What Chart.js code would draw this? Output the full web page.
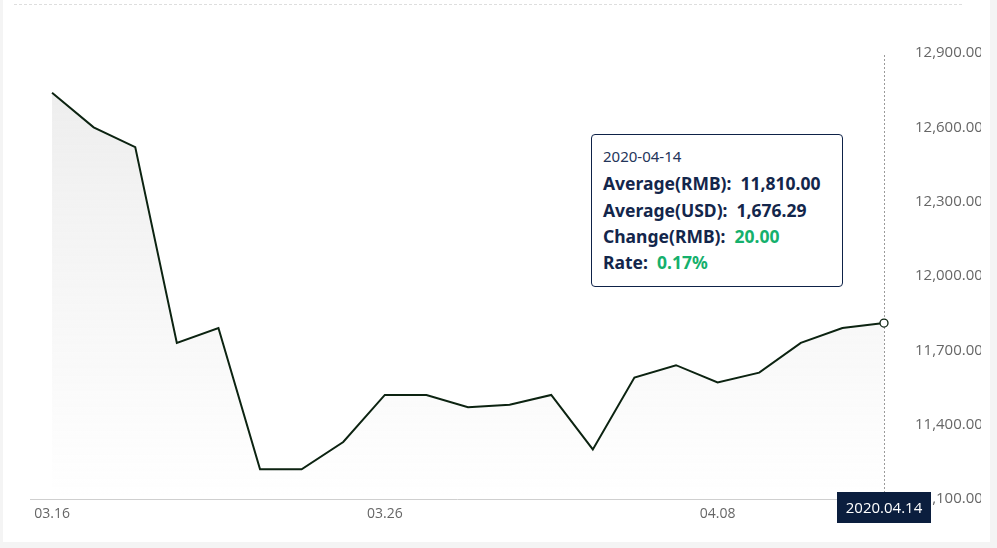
<!DOCTYPE html>
<html><head><meta charset="utf-8">
<script src="https://cdn.jsdelivr.net/npm/chart.js@4"></script>
<style>
html,body{margin:0;padding:0;background:#f4f4f4;width:997px;height:548px;overflow:hidden;}
#card{position:absolute;left:3px;top:0;width:987px;height:542px;background:#fff;}
#wrap{position:absolute;left:3px;top:0;width:978px;height:542px;}
#dash{position:absolute;left:14px;top:4px;width:948px;border-top:1px dashed #dedede;}
#tip{position:absolute;left:591px;top:134px;width:250px;height:151px;border:1px solid #0e2248;border-radius:4px;background:#fff;
 font-family:"Noto Sans","Open Sans",sans-serif;color:#13264b;box-sizing:content-box;}
#tip .d{position:absolute;left:11px;top:11px;font-size:15px;font-weight:400;color:#24355a;}
#tip .r{position:absolute;left:11px;font-size:17.5px;font-weight:700;white-space:pre;}
#tip .g{color:#15b06c;}
</style></head>
<body>
<div id="card"></div>
<div id="dash"></div>
<div id="wrap"><canvas id="c" width="978" height="542"></canvas></div>
<div id="tip"></div>
<script>
const year = '2020';
const dates = ['03.16','03.17','03.18','03.19','03.20','03.23','03.24','03.25','03.26','03.27','03.30','03.31','04.01','04.02','04.03','04.07','04.08','04.09','04.10','04.13','04.14'];
const avgRmb = [12740,12600,12520,11730,11790,11220,11220,11330,11520,11520,11470,11480,11520,11300,11590,11640,11570,11610,11730,11790,11810];
const tickIdx = [0,8,16];
const yTicks = [11100,11400,11700,12000,12300,12600,12900];
const usdLast = 1676.29;

const last = avgRmb.length - 1;
const fmt = v => v.toLocaleString('en-US',{minimumFractionDigits:2,maximumFractionDigits:2});
const change = avgRmb[last] - avgRmb[last-1];
const rate = change / avgRmb[last-1] * 100;

document.getElementById('tip').innerHTML =
  '<div class="d">' + year + '-' + dates[last].replace('.','-') + '</div>' +
  '<div class="r" style="top:36px">Average(RMB):  ' + fmt(avgRmb[last]) + '</div>' +
  '<div class="r" style="top:63px">Average(USD):  ' + fmt(usdLast) + '</div>' +
  '<div class="r" style="top:89px">Change(RMB):  <span class="g">' + fmt(change) + '</span></div>' +
  '<div class="r" style="top:115px">Rate:  <span class="g">' + rate.toFixed(2) + '%</span></div>';

const points = avgRmb.map((v,i)=>({x:i,y:v}));

const cursor = {
  id:'cursor',
  beforeDatasetsDraw(chart){
    const c = chart.ctx, x = chart.scales.x.getPixelForValue(last), a = chart.chartArea;
    c.save(); c.strokeStyle='#9a9a9a'; c.lineWidth=1; c.setLineDash([2,2]);
    c.beginPath(); c.moveTo(Math.round(x)+0.5, a.top+2); c.lineTo(Math.round(x)+0.5, a.bottom); c.stroke(); c.restore();
  },
  afterDraw(chart){
    const c = chart.ctx, x = chart.scales.x.getPixelForValue(last), a = chart.chartArea;
    const w = 94, h = 31;
    c.save(); c.fillStyle='#0b1e3e'; c.fillRect(Math.round(x - w/2), a.bottom-7, w, h);
    c.fillStyle='#fff'; c.font='15px "Open Sans", sans-serif'; c.textAlign='center'; c.textBaseline='middle';
    c.fillText(year + '.' + dates[last], x, a.bottom - 7 + h/2 + 1); c.restore();
  }
};

new Chart(document.getElementById('c'), {
  type:'line',
  data:{datasets:[{
    data:points, clip:false,
    borderColor:'#0c2311', borderWidth:2, tension:0,
    fill:'start',
    backgroundColor:(ctx)=>{
      const a = ctx.chart.chartArea; if(!a) return 'rgba(0,0,0,0)';
      const g = ctx.chart.ctx.createLinearGradient(0,a.top,0,a.bottom);
      g.addColorStop(0,'rgba(170,170,170,0.22)');
      g.addColorStop(1,'rgba(170,170,170,0)');
      return g;
    },
    pointRadius:(ctx)=>ctx.dataIndex===last?4:0,
    pointBackgroundColor:'#fff', pointBorderColor:'#0c2311', pointBorderWidth:1.3,
    pointHoverRadius:(ctx)=>ctx.dataIndex===last?4:0
  }]},
  options:{
    responsive:false, animation:false, devicePixelRatio:1,
    layout:{padding:{top:53,left:27,right:0,bottom:0}},
    plugins:{legend:{display:false},tooltip:{enabled:false}},
    events:[],
    scales:{
      x:{type:'linear', min:-0.53, max:last,
        afterBuildTicks:(s)=>{s.ticks = tickIdx.map(v=>({value:v}));},
        afterFit:(s)=>{s.height = 43;},
        ticks:{callback:(v)=>dates[v], color:'#666', font:{family:'"Open Sans", sans-serif', size:14}, padding:7, maxRotation:0, autoSkip:false},
        grid:{display:false, drawTicks:false},
        border:{display:true, color:'#cfcfcf', width:1}
      },
      y:{position:'right', min:11100, max:12900,
        afterBuildTicks:(s)=>{s.ticks = yTicks.map(v=>({value:v}));},
        afterFit:(s)=>{s.width = 97;},
        ticks:{callback:(v)=>fmt(v), color:'#666', font:{family:'"Open Sans", sans-serif', size:15}, padding:31},
        grid:{display:false, drawTicks:false},
        border:{display:false}
      }
    }
  },
  plugins:[cursor]
});
</script>
</body></html>
